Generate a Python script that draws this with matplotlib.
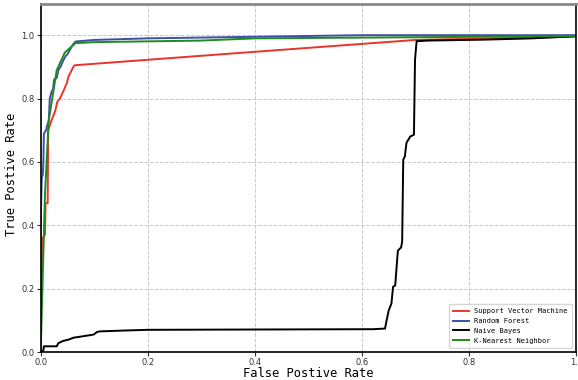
import matplotlib.pyplot as plt

# ROC curve points
svm_fpr = [0.0, 0.0, 0.003, 0.004, 0.008, 0.009, 0.013, 0.014, 0.016, 0.02, 0.027, 0.031, 0.036,
           0.044, 0.049, 0.052, 0.055, 0.061, 0.063, 0.30, 0.70, 0.85, 1.0]
svm_tpr = [0.0, 0.27, 0.29, 0.36, 0.37, 0.47, 0.47, 0.70, 0.71, 0.73, 0.76, 0.79, 0.80,
           0.83, 0.85, 0.87, 0.88, 0.90, 0.905, 0.935, 0.985, 0.99, 0.995]

rf_fpr = [0.0, 0.0, 0.002, 0.004, 0.005, 0.006, 0.01, 0.013, 0.015, 0.017, 0.02, 0.023, 0.025,
          0.03, 0.033, 0.037, 0.042, 0.047, 0.05, 0.055, 0.06, 0.065, 0.1, 0.2, 0.4, 0.6, 1.0]
rf_tpr = [0.0, 0.41, 0.55, 0.56, 0.60, 0.69, 0.70, 0.72, 0.73, 0.80, 0.82, 0.83, 0.86,
          0.865, 0.89, 0.90, 0.92, 0.935, 0.94, 0.955, 0.97, 0.98, 0.985, 0.99, 0.995, 1.0, 1.0]

nb_fpr = [0.0, 0.005, 0.006, 0.03, 0.033, 0.042, 0.052, 0.061, 0.08, 0.099, 0.105, 0.11, 0.16,
          0.2, 0.4, 0.621, 0.643, 0.646, 0.650, 0.655, 0.658, 0.662, 0.667, 0.673, 0.675,
          0.677, 0.680, 0.683, 0.690, 0.697, 0.699, 0.702, 0.724, 0.83, 0.918, 1.0]
nb_tpr = [0.0, 0.005, 0.018, 0.018, 0.028, 0.035, 0.039, 0.045, 0.05, 0.055, 0.063, 0.065, 0.068,
          0.07, 0.071, 0.072, 0.074, 0.10, 0.132, 0.153, 0.206, 0.21, 0.32, 0.33, 0.348,
          0.607, 0.617, 0.66, 0.68, 0.686, 0.923, 0.981, 0.983, 0.986, 0.99, 0.997]

knn_fpr = [0.0, 0.008, 0.015, 0.03, 0.045, 0.065, 0.1, 0.3, 0.4, 1.0]
knn_tpr = [0.0, 0.50, 0.73, 0.89, 0.945, 0.975, 0.978, 0.983, 0.99, 0.997]

labels = ['Support Vector Machine', 'Random Forest', 'Naive Bayes', 'K-Nearest Neighbor']
colors = ['#e8352b', '#3c4fa8', 'black', '#1f8a1f']

fig = plt.figure(figsize=(5.78, 3.8), dpi=100)
ax = fig.add_axes([40.7 / 578, 28 / 380, 535.5 / 578, 348.5 / 380])

curves = [(svm_fpr, svm_tpr), (rf_fpr, rf_tpr), (nb_fpr, nb_tpr), (knn_fpr, knn_tpr)]
for (fx, ty), lab, c in zip(curves, labels, colors):
    ax.plot(fx, ty, color=c, lw=1.4, label=lab)

ax.set_xlim(0, 1.0)
ax.set_ylim(0, 1.1)
ax.set_xticks([0.0, 0.2, 0.4, 0.6, 0.8, 1.0])
ax.set_yticks([0.0, 0.2, 0.4, 0.6, 0.8, 1.0])
ax.set_xticklabels(['0.0', '0.2', '0.4', '0.6', '0.8', '1.0'])
ax.set_yticklabels(['0.0', '0.2', '0.4', '0.6', '0.8', '1.0'])
ax.tick_params(labelsize=6, length=3, width=0.8, colors='#333333', pad=1.5)
ax.grid(True, linestyle='--', color='#c8c8c8', lw=0.7)

ax.spines['top'].set_color('#8a8a8a')
ax.spines['top'].set_linewidth(2)
for s in ['left', 'bottom', 'right']:
    ax.spines[s].set_linewidth(1.2)

ax.set_xlabel('False Postive Rate', fontsize=8.7, family='DejaVu Sans Mono')
ax.set_ylabel('True Postive Rate', fontsize=8.7, family='DejaVu Sans Mono')
ax.xaxis.set_label_coords(0.5, -0.042)
ax.yaxis.set_label_coords(-0.042, 0.51)

ax.legend(loc='lower right', prop={'family': 'DejaVu Sans Mono', 'size': 5},
          handlelength=2.3, borderpad=0.6, labelspacing=0.55, borderaxespad=0.6)

plt.savefig('out.png', dpi=100)
